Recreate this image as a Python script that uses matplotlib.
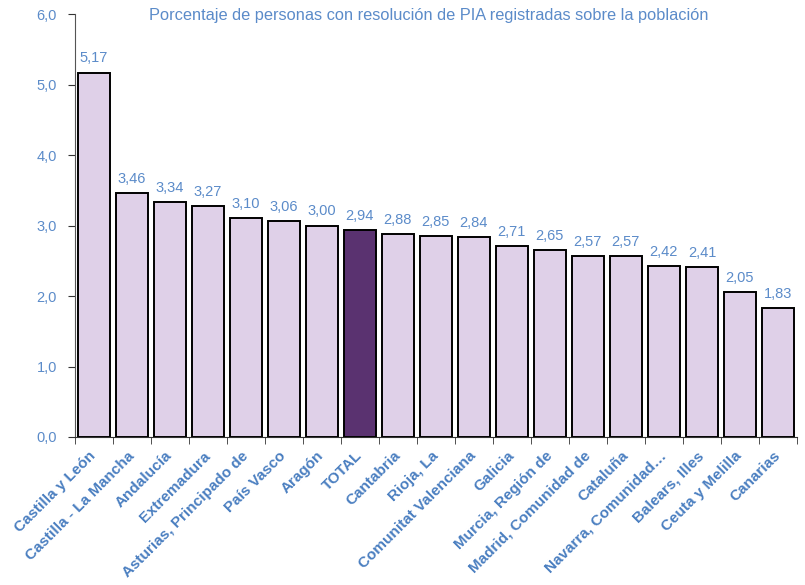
import matplotlib.pyplot as plt
import numpy as np

plt.rcParams['font.family'] = ['Liberation Sans', 'DejaVu Sans']

regiones = ['Castilla y León', 'Castilla - La Mancha', 'Andalucía', 'Extremadura',
            'Asturias, Principado de', 'País Vasco', 'Aragón', 'TOTAL', 'Cantabria',
            'Rioja, La', 'Comunitat Valenciana', 'Galicia', 'Murcia, Región de',
            'Madrid, Comunidad de', 'Cataluña', 'Navarra, Comunidad…', 'Balears, Illes',
            'Ceuta y Melilla', 'Canarias']
valores = [5.17, 3.46, 3.34, 3.27, 3.10, 3.06, 3.00, 2.94, 2.88, 2.85, 2.84,
           2.71, 2.65, 2.57, 2.57, 2.42, 2.41, 2.05, 1.83]
yticks = [0, 1, 2, 3, 4, 5, 6]

azul = '#5B8BC9'
claro = '#DFD0E8'
oscuro = '#5A3270'

fig = plt.figure(figsize=(8.05, 5.85), dpi=100)
ax = fig.add_axes([0.093, 0.253, 0.897, 0.723])

x = np.arange(len(regiones))
colores = [oscuro if r == 'TOTAL' else claro for r in regiones]
bars = ax.bar(x, valores, width=0.84, color=colores, edgecolor='black', linewidth=1.4)

for xi, v in zip(x, valores):
    ax.text(xi, v + 0.1, f'{v:.2f}'.replace('.', ','), ha='center', va='bottom',
            fontsize=10.5, color=azul)

ax.set_xlim(-0.5, len(regiones) - 0.5)
ax.set_ylim(0, 6)
ax.set_yticks(yticks)
ax.set_yticklabels([f'{t:.1f}'.replace('.', ',') for t in yticks], color=azul, fontsize=10.5)
ax.set_xticks(x)
ax.set_xticklabels(regiones, rotation=45, ha='right', va='center', rotation_mode='anchor',
                   fontsize=11, fontweight='bold', color='#4A7EC0')
ax.set_xticks(np.arange(-0.5, len(regiones)), minor=True)
ax.tick_params(axis='x', which='major', length=0, pad=12)
ax.tick_params(axis='x', which='minor', length=5, direction='out', color='#333333')
ax.tick_params(axis='y', length=5, direction='out', color='#333333', pad=8)

for s in ['top', 'right']:
    ax.spines[s].set_visible(False)
ax.spines['left'].set_color('#555555')
ax.spines['bottom'].set_color('#333333')

ax.set_title('Porcentaje de personas con resolución de PIA registradas sobre la población',
             color=azul, fontsize=11.8, x=0.49, y=0.995, va='top')

fig.savefig('out.png', dpi=100)
